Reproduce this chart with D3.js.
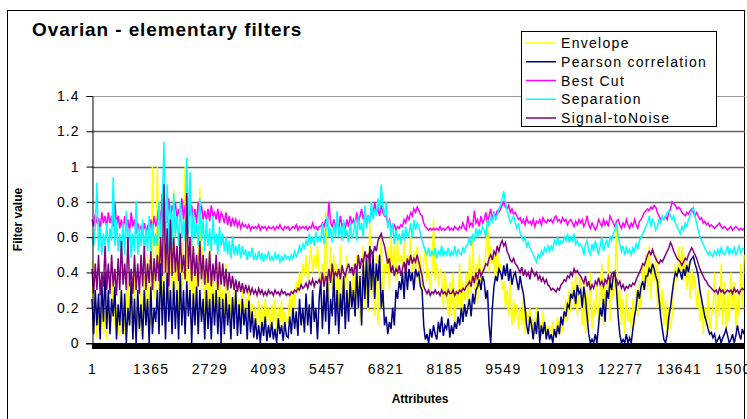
<!DOCTYPE html>
<html>
<head>
<meta charset="utf-8">
<script src="https://cdn.jsdelivr.net/npm/d3@7"></script>
<style>
  html, body { margin: 0; padding: 0; background: #fff; }
  svg { display: block; }
  text { font-family: "Liberation Sans", Arial, sans-serif; }
</style>
</head>
<body>
<svg id="chart" width="747" height="419"></svg>
<script>
// ---------------- data ----------------
const attributeCount = 15154;
const xTickLabels = [1, 1365, 2729, 4093, 5457, 6821, 8185, 9549, 10913, 12277, 13641, 15005];
const yTicks = [0, 0.2, 0.4, 0.6, 0.8, 1, 1.2, 1.4];
const seriesNames = ["Envelope", "Pearson correlation", "Best Cut", "Separation", "Signal-toNoise"];
const seriesColors = ["#FFFF00", "#000080", "#FF00FF", "#00FFFF", "#800080"];

const envelope = [
  0.46,0.08,0.2,0.03,0.15,0.1,0.22,0.05,0.18,0.02,
  0.25,0.08,0.14,0.4,0.1,0.2,0.04,0.3,0.06,0.18,
  0.05,0.22,0.35,0.1,0.28,0.02,0.4,0.12,0.2,0.06,
  0.3,0.1,0.38,0.15,0.5,0.2,0.1,1.0,0.25,0.45,
  1.0,0.3,0.62,0.2,0.75,0.35,0.55,0.2,0.6,0.3,
  0.87,0.25,0.5,0.15,0.45,0.3,0.6,1.0,0.35,0.55,
  0.2,0.6,0.15,0.45,0.25,0.5,0.88,0.3,0.55,0.12,
  0.45,0.2,0.55,0.12,0.4,0.18,0.35,0.15,0.45,0.2,
  0.3,0.14,0.45,0.18,0.3,0.12,0.25,0.2,0.35,0.15,
  0.25,0.18,0.3,0.14,0.26,0.2,0.3,0.15,0.22,0.12,
  0.2,0.08,0.24,0.1,0.22,0.06,0.25,0.12,0.2,0.08,
  0.22,0.1,0.25,0.07,0.2,0.12,0.24,0.08,0.18,0.12,
  0.12,0.28,0.15,0.3,0.2,0.35,0.28,0.4,0.32,0.45,
  0.38,0.5,0.35,0.45,0.55,0.4,0.5,0.42,0.55,0.4,
  0.35,0.45,0.3,0.75,0.4,0.25,0.55,0.3,0.5,0.2,
  0.45,0.2,0.55,0.15,0.4,0.25,0.5,0.12,0.35,0.2,
  0.45,0.15,0.5,0.3,0.12,0.4,0.55,0.2,0.35,0.18,
  0.7,0.25,0.45,0.15,0.5,0.1,0.4,0.6,0.2,0.45,
  0.4,0.55,0.3,0.6,0.42,0.55,0.35,0.58,0.45,0.5,
  0.4,0.58,0.38,0.5,0.45,0.6,0.35,0.52,0.42,0.55,
  0.35,0.5,0.3,0.45,0.55,0.35,0.42,0.3,0.4,0.7,
  0.35,0.45,0.32,0.42,0.38,0.2,0.4,0.3,0.15,0.35,
  0.15,0.4,0.1,0.3,0.2,0.45,0.12,0.35,0.25,0.4,
  0.2,0.5,0.28,0.6,0.3,0.45,0.22,0.5,0.35,0.4,
  0.45,0.5,0.75,0.4,0.55,0.45,0.5,0.35,0.55,0.4,
  0.45,0.3,0.35,0.2,0.3,0.15,0.35,0.1,0.25,0.12,
  0.22,0.08,0.2,0.1,0.25,0.05,0.18,0.12,0.2,0.06,
  0.15,0.05,0.2,0.08,0.12,0.04,0.18,0.06,0.1,0.04,
  0.1,0.02,0.12,0.05,0.08,0.15,0.04,0.12,0.06,0.15,
  0.25,0.12,0.3,0.18,0.35,0.2,0.4,0.15,0.3,0.38,
  0.1,0.35,0.05,0.3,0.12,0.4,0.08,0.25,0.15,0.35,
  0.08,0.3,0.45,0.1,0.35,0.2,0.5,0.12,0.4,0.25,
  0.35,0.68,0.2,0.3,0.1,0.25,0.05,0.28,0.12,0.2,
  0.08,0.25,0.1,0.3,0.15,0.35,0.2,0.45,0.3,0.5,
  0.3,0.55,0.25,0.45,0.35,0.5,0.2,0.4,0.15,0.3,
  0.1,0.25,0.05,0.2,0.08,0.15,0.3,0.45,0.35,0.55,
  0.4,0.55,0.35,0.5,0.3,0.45,0.25,0.42,0.3,0.38,
  0.2,0.3,0.12,0.25,0.05,0.2,0.1,0.3,0.06,0.15,
  0.2,0.4,0.08,0.3,0.15,0.45,0.1,0.35,0.05,0.3,
  0.12,0.4,0.2,0.35,0.08,0.3,0.15,0.45,0.2,0.5
];
const pearson = [
  0.25,0.05,0.3,0.1,0.28,0.02,0.35,0.12,0.4,0.08,
  0.3,0.05,0.25,0.15,0.32,0.02,0.22,0.1,0.3,0.05,
  0.28,0.0,0.2,0.1,0.35,0.02,0.25,0.0,0.3,0.08,
  0.22,0.02,0.3,0.1,0.25,0.0,0.32,0.05,0.2,0.12,
  0.3,0.05,0.45,0.1,0.35,0.02,0.4,0.12,0.3,0.05,
  0.35,0.08,0.3,0.02,0.4,0.1,0.3,0.05,0.35,0.15,
  0.3,0.0,0.28,0.1,0.32,0.05,0.3,0.12,0.25,0.02,
  0.3,0.08,0.25,0.02,0.28,0.1,0.3,0.05,0.26,0.0,
  0.25,0.05,0.28,0.1,0.22,0.02,0.26,0.08,0.3,0.04,
  0.22,0.05,0.25,0.1,0.2,0.02,0.24,0.06,0.18,0.03,
  0.14,0.02,0.1,0.0,0.12,0.04,0.15,0.01,0.1,0.03,
  0.12,0.02,0.08,0.0,0.14,0.05,0.1,0.01,0.12,0.04,
  0.03,0.15,0.05,0.2,0.08,0.18,0.04,0.25,0.1,0.2,
  0.06,0.28,0.1,0.22,0.05,0.3,0.12,0.2,0.02,0.25,
  0.35,0.08,0.3,0.12,0.38,0.05,0.25,0.15,0.4,0.1,
  0.3,0.05,0.28,0.15,0.38,0.08,0.3,0.12,0.35,0.2,
  0.3,0.15,0.42,0.2,0.38,0.1,0.45,0.25,0.5,0.2,
  0.55,0.3,0.5,0.25,0.45,0.35,0.5,0.2,0.3,0.1,
  0.15,0.05,0.12,0.08,0.2,0.1,0.3,0.25,0.35,0.3,
  0.4,0.25,0.45,0.3,0.42,0.35,0.4,0.3,0.42,0.38,
  0.4,0.32,0.3,0.1,0.02,0.05,0.0,0.08,0.03,0.1,
  0.05,0.02,0.12,0.06,0.15,0.04,0.1,0.08,0.14,0.03,
  0.1,0.05,0.12,0.08,0.15,0.1,0.2,0.12,0.22,0.15,
  0.2,0.25,0.15,0.28,0.22,0.3,0.32,0.36,0.3,0.38,
  0.35,0.25,0.3,0.1,0.0,0.2,0.32,0.38,0.35,0.42,
  0.4,0.36,0.44,0.38,0.45,0.35,0.42,0.33,0.38,0.4,
  0.35,0.3,0.38,0.32,0.28,0.2,0.1,0.05,0.15,0.1,
  0.02,0.12,0.05,0.18,0.0,0.1,0.05,0.12,0.02,0.08,
  0.02,0.05,0.0,0.08,0.03,0.1,0.05,0.15,0.1,0.18,
  0.15,0.22,0.2,0.28,0.25,0.3,0.22,0.33,0.28,0.3,
  0.2,0.32,0.25,0.15,0.05,0.0,0.02,0.0,0.05,0.0,
  0.1,0.2,0.15,0.25,0.12,0.3,0.25,0.35,0.3,0.38,
  0.4,0.3,0.15,0.05,0.0,0.02,0.0,0.05,0.0,0.03,
  0.0,0.08,0.15,0.2,0.3,0.25,0.32,0.35,0.3,0.38,
  0.38,0.42,0.4,0.45,0.42,0.38,0.35,0.25,0.15,0.08,
  0.02,0.0,0.05,0.15,0.2,0.28,0.35,0.4,0.38,0.42,
  0.4,0.36,0.42,0.38,0.44,0.4,0.46,0.48,0.49,0.45,
  0.42,0.38,0.3,0.25,0.2,0.15,0.12,0.08,0.05,0.06,
  0.03,0.05,0.0,0.02,0.04,0.0,0.03,0.05,0.08,0.04,
  0.0,0.02,0.05,0.0,0.04,0.1,0.05,0.02,0.08,0.05
];
const bestCut = [
  0.7,0.66,0.73,0.68,0.71,0.64,0.74,0.68,0.72,0.66,
  0.74,0.68,0.72,0.66,0.8,0.67,0.72,0.65,0.7,0.64,
  0.72,0.65,0.7,0.63,0.74,0.66,0.7,0.62,0.68,0.64,
  0.66,0.62,0.68,0.63,0.66,0.62,0.7,0.64,0.72,0.66,
  0.7,0.78,0.66,0.85,0.72,0.8,0.68,0.82,0.72,0.78,
  0.74,0.8,0.7,0.76,0.72,0.82,0.7,0.78,0.72,0.8,
  0.72,0.78,0.7,0.76,0.68,0.8,0.72,0.78,0.7,0.75,
  0.7,0.76,0.69,0.78,0.72,0.74,0.7,0.76,0.68,0.74,
  0.72,0.68,0.74,0.67,0.72,0.66,0.71,0.67,0.7,0.66,
  0.69,0.65,0.68,0.66,0.67,0.65,0.67,0.64,0.66,0.65,
  0.66,0.65,0.67,0.64,0.66,0.65,0.66,0.64,0.66,0.65,
  0.65,0.66,0.64,0.66,0.65,0.67,0.65,0.64,0.66,0.65,
  0.66,0.64,0.65,0.66,0.65,0.67,0.64,0.66,0.65,0.66,
  0.65,0.66,0.64,0.66,0.65,0.68,0.65,0.66,0.64,0.66,
  0.66,0.68,0.66,0.7,0.66,0.8,0.68,0.66,0.7,0.66,
  0.68,0.65,0.72,0.66,0.68,0.65,0.7,0.66,0.72,0.68,
  0.7,0.66,0.74,0.68,0.72,0.76,0.7,0.74,0.68,0.72,
  0.7,0.74,0.72,0.8,0.74,0.76,0.72,0.78,0.74,0.72,
  0.72,0.68,0.7,0.66,0.65,0.67,0.64,0.66,0.65,0.67,
  0.66,0.7,0.68,0.72,0.7,0.74,0.72,0.76,0.74,0.77,
  0.75,0.73,0.72,0.68,0.66,0.65,0.64,0.65,0.64,0.65,
  0.64,0.65,0.64,0.66,0.64,0.65,0.64,0.65,0.66,0.64,
  0.65,0.64,0.66,0.65,0.64,0.66,0.65,0.68,0.65,0.64,
  0.72,0.66,0.68,0.66,0.75,0.68,0.7,0.66,0.72,0.68,
  0.7,0.74,0.68,0.72,0.76,0.7,0.74,0.72,0.75,0.74,
  0.76,0.78,0.8,0.77,0.76,0.78,0.74,0.76,0.73,0.74,
  0.72,0.7,0.71,0.68,0.7,0.67,0.71,0.68,0.69,0.67,
  0.7,0.66,0.69,0.68,0.7,0.67,0.71,0.69,0.68,0.7,
  0.69,0.7,0.68,0.71,0.72,0.69,0.7,0.68,0.71,0.69,
  0.7,0.67,0.69,0.7,0.68,0.66,0.69,0.67,0.7,0.68,
  0.7,0.66,0.68,0.72,0.67,0.65,0.68,0.66,0.64,0.66,
  0.7,0.68,0.66,0.7,0.67,0.69,0.66,0.72,0.7,0.68,
  0.66,0.69,0.7,0.67,0.65,0.68,0.66,0.7,0.67,0.65,
  0.68,0.66,0.7,0.67,0.65,0.69,0.7,0.72,0.74,0.75,
  0.76,0.75,0.77,0.76,0.78,0.77,0.74,0.72,0.7,0.71,
  0.7,0.72,0.7,0.74,0.76,0.8,0.79,0.78,0.76,0.77,
  0.76,0.74,0.73,0.72,0.74,0.73,0.75,0.76,0.74,0.72,
  0.74,0.72,0.7,0.71,0.68,0.69,0.67,0.68,0.66,0.67,
  0.66,0.65,0.66,0.67,0.68,0.66,0.65,0.66,0.65,0.64,
  0.65,0.66,0.64,0.65,0.66,0.65,0.64,0.65,0.64,0.65
];
const separation = [
  0.6,0.55,0.65,0.91,0.52,0.66,0.5,0.62,0.55,0.68,
  0.52,0.65,0.58,0.94,0.55,0.7,0.52,0.62,0.5,0.68,
  0.5,0.75,0.55,0.65,0.48,0.62,0.52,0.8,0.5,0.66,
  0.55,0.7,0.5,0.65,0.52,0.72,0.5,0.68,0.55,0.62,
  0.55,0.8,0.6,0.72,1.14,0.58,0.9,0.52,0.78,0.55,
  0.85,0.6,0.72,0.55,0.8,0.6,0.7,0.58,1.05,0.62,
  0.97,0.55,0.75,0.6,0.68,0.55,0.82,0.58,0.7,0.52,
  0.7,0.55,0.65,0.52,0.72,0.56,0.62,0.5,0.66,0.55,
  0.62,0.52,0.6,0.5,0.58,0.48,0.6,0.5,0.55,0.5,
  0.56,0.48,0.55,0.5,0.53,0.47,0.52,0.49,0.54,0.47,
  0.5,0.47,0.52,0.48,0.51,0.46,0.5,0.48,0.52,0.47,
  0.49,0.47,0.51,0.48,0.5,0.46,0.49,0.47,0.5,0.48,
  0.49,0.47,0.5,0.48,0.52,0.49,0.51,0.55,0.52,0.56,
  0.54,0.58,0.55,0.62,0.56,0.6,0.55,0.63,0.57,0.6,
  0.58,0.68,0.56,0.64,0.72,0.6,0.65,0.57,0.68,0.6,
  0.75,0.6,0.66,0.58,0.7,0.6,0.64,0.57,0.68,0.6,
  0.62,0.7,0.58,0.72,0.64,0.68,0.6,0.78,0.65,0.72,
  0.68,0.8,0.7,0.76,0.72,0.82,0.75,0.9,0.78,0.72,
  0.8,0.65,0.7,0.6,0.68,0.56,0.64,0.58,0.62,0.56,
  0.64,0.58,0.66,0.6,0.62,0.68,0.6,0.7,0.64,0.68,
  0.66,0.62,0.58,0.55,0.52,0.5,0.54,0.49,0.52,0.5,
  0.54,0.48,0.52,0.5,0.55,0.49,0.52,0.5,0.54,0.49,
  0.52,0.5,0.55,0.49,0.53,0.51,0.5,0.54,0.52,0.55,
  0.56,0.6,0.55,0.62,0.58,0.65,0.6,0.64,0.62,0.66,
  0.64,0.6,0.7,0.66,0.72,0.68,0.74,0.7,0.72,0.76,
  0.78,0.82,0.86,0.8,0.75,0.72,0.68,0.7,0.72,0.68,
  0.65,0.68,0.62,0.6,0.58,0.6,0.55,0.57,0.54,0.52,
  0.5,0.48,0.46,0.5,0.48,0.52,0.5,0.54,0.52,0.55,
  0.52,0.55,0.53,0.58,0.56,0.6,0.55,0.58,0.57,0.6,
  0.58,0.62,0.57,0.6,0.58,0.62,0.56,0.58,0.55,0.56,
  0.54,0.5,0.56,0.58,0.52,0.5,0.56,0.52,0.58,0.54,
  0.5,0.55,0.6,0.52,0.56,0.58,0.54,0.6,0.58,0.62,
  0.64,0.68,0.6,0.56,0.52,0.55,0.5,0.54,0.51,0.53,
  0.5,0.54,0.52,0.56,0.53,0.58,0.6,0.62,0.64,0.66,
  0.68,0.72,0.66,0.7,0.68,0.64,0.66,0.7,0.68,0.72,
  0.7,0.72,0.74,0.75,0.72,0.7,0.72,0.68,0.66,0.64,
  0.62,0.66,0.64,0.68,0.66,0.7,0.72,0.75,0.77,0.72,
  0.68,0.64,0.6,0.58,0.56,0.54,0.52,0.5,0.52,0.5,
  0.49,0.52,0.5,0.53,0.5,0.54,0.51,0.5,0.52,0.55,
  0.5,0.53,0.51,0.54,0.5,0.52,0.55,0.51,0.53,0.54
];
const signalToNoise = [
  0.42,0.28,0.45,0.3,0.5,0.27,0.4,0.32,0.55,0.3,
  0.45,0.28,0.5,0.32,0.42,0.27,0.48,0.3,0.58,0.33,
  0.45,0.3,0.6,0.32,0.42,0.28,0.5,0.3,0.45,0.28,
  0.5,0.32,0.55,0.3,0.45,0.34,0.52,0.3,0.48,0.35,
  0.5,0.35,0.6,0.38,0.9,0.4,0.65,0.32,0.7,0.38,
  0.6,0.4,0.55,0.35,0.62,0.4,0.5,0.36,0.85,0.42,
  0.6,0.35,0.55,0.38,0.5,0.32,0.58,0.36,0.5,0.33,
  0.48,0.34,0.52,0.32,0.45,0.35,0.5,0.3,0.46,0.33,
  0.45,0.32,0.42,0.3,0.4,0.31,0.38,0.3,0.36,0.29,
  0.35,0.29,0.34,0.28,0.33,0.29,0.32,0.28,0.31,0.28,
  0.3,0.27,0.31,0.28,0.3,0.27,0.29,0.27,0.3,0.28,
  0.29,0.27,0.3,0.28,0.29,0.27,0.3,0.28,0.29,0.27,
  0.28,0.27,0.29,0.28,0.3,0.29,0.31,0.3,0.33,0.31,
  0.32,0.34,0.31,0.35,0.33,0.36,0.32,0.35,0.34,0.36,
  0.33,0.4,0.32,0.38,0.35,0.42,0.34,0.45,0.37,0.4,
  0.38,0.42,0.36,0.44,0.4,0.38,0.42,0.45,0.4,0.43,
  0.38,0.45,0.4,0.5,0.42,0.48,0.45,0.52,0.48,0.5,
  0.45,0.52,0.5,0.55,0.52,0.58,0.6,0.62,0.58,0.55,
  0.5,0.45,0.48,0.4,0.44,0.38,0.42,0.4,0.44,0.38,
  0.42,0.46,0.4,0.48,0.44,0.5,0.45,0.48,0.46,0.5,
  0.46,0.42,0.38,0.32,0.3,0.28,0.3,0.27,0.29,0.28,
  0.3,0.28,0.29,0.27,0.3,0.28,0.29,0.27,0.3,0.28,
  0.28,0.3,0.27,0.29,0.28,0.3,0.29,0.31,0.3,0.32,
  0.33,0.35,0.32,0.38,0.34,0.4,0.36,0.42,0.38,0.4,
  0.42,0.45,0.44,0.48,0.5,0.47,0.52,0.5,0.55,0.52,
  0.56,0.58,0.55,0.57,0.52,0.5,0.47,0.46,0.48,0.45,
  0.44,0.42,0.4,0.43,0.38,0.41,0.38,0.4,0.36,0.42,
  0.4,0.38,0.4,0.36,0.38,0.35,0.37,0.34,0.36,0.33,
  0.32,0.3,0.31,0.3,0.29,0.31,0.3,0.33,0.34,0.36,
  0.35,0.38,0.37,0.4,0.38,0.42,0.4,0.41,0.39,0.38,
  0.36,0.34,0.38,0.32,0.35,0.3,0.33,0.31,0.35,0.33,
  0.37,0.33,0.35,0.32,0.36,0.34,0.38,0.35,0.39,0.4,
  0.38,0.36,0.33,0.35,0.31,0.33,0.3,0.32,0.31,0.33,
  0.32,0.34,0.33,0.36,0.38,0.4,0.42,0.45,0.44,0.47,
  0.5,0.52,0.5,0.53,0.5,0.48,0.46,0.45,0.47,0.46,
  0.48,0.5,0.52,0.54,0.57,0.55,0.52,0.5,0.48,0.47,
  0.46,0.44,0.46,0.48,0.47,0.5,0.52,0.54,0.52,0.5,
  0.48,0.45,0.42,0.4,0.38,0.36,0.35,0.33,0.32,0.31,
  0.3,0.29,0.3,0.28,0.31,0.29,0.3,0.28,0.29,0.3,
  0.29,0.3,0.28,0.31,0.29,0.3,0.28,0.3,0.31,0.3
];
const seriesValues = [envelope, pearson, bestCut, separation, signalToNoise];

// ---------------- layout ----------------
const svg = d3.select("#chart");
const plot = { left: 92, right: 744, top: 96, bottom: 343 };

const x = d3.scaleLinear().domain([1, attributeCount]).range([plot.left, plot.right]);
const y = d3.scaleLinear().domain([0, 1.4]).range([plot.bottom, plot.top]);

// chart border
svg.append("rect")
  .attr("x", 7.5).attr("y", 10.5).attr("width", 737).attr("height", 430)
  .attr("fill", "#fff").attr("stroke", "#000").attr("stroke-width", 1);

// title
svg.append("text")
  .attr("x", 32).attr("y", 36)
  .attr("font-size", 19).attr("font-weight", "bold")
  .attr("letter-spacing", 0.9)
  .text("Ovarian - elementary filters");

// gridlines
svg.append("g")
  .selectAll("line")
  .data(yTicks.filter(d => d > 0))
  .join("line")
  .attr("x1", plot.left).attr("x2", plot.right + 1)
  .attr("y1", d => Math.round(y(d)) + 0.5).attr("y2", d => Math.round(y(d)) + 0.5)
  .attr("stroke", d => d === 1.4 ? "#9a9a9a" : "#606060")
  .attr("stroke-width", d => d === 1.4 ? 1.2 : 1.7);

// series lines
const line = d3.line()
  .x(d => x(d[0]))
  .y(d => y(d[1]));

const gLines = svg.append("g");
seriesValues.forEach((vals, k) => {
  const step = (attributeCount - 1) / (vals.length - 1);
  const pts = vals.map((v, i) => [1 + i * step, v]);
  gLines.append("path")
    .datum(pts)
    .attr("fill", "none")
    .attr("stroke", seriesColors[k])
    .attr("stroke-width", 1.5)
    .attr("stroke-linejoin", "miter")
    .attr("d", line);
});

// y axis
const yAxis = d3.axisLeft(y)
  .tickValues(yTicks)
  .tickSize(6)
  .tickPadding(7)
  .tickFormat(d => String(+d.toFixed(1)));
const gy = svg.append("g")
  .attr("transform", `translate(${plot.left + 0.5},0)`)
  .call(yAxis);
gy.select(".domain").attr("stroke", "#000");
gy.selectAll(".tick line").attr("stroke", "#000");
gy.selectAll(".tick text")
  .attr("font-size", 14)
  .attr("letter-spacing", 1)
  .attr("fill", "#000")
  .style("font-family", '"Liberation Sans", Arial, sans-serif');

// thick x axis band (dense category tick marks)
svg.append("rect")
  .attr("x", plot.left - 6).attr("y", plot.bottom)
  .attr("width", plot.right - plot.left + 6).attr("height", 1.5)
  .attr("fill", "#000");
svg.append("rect")
  .attr("x", plot.left).attr("y", plot.bottom)
  .attr("width", plot.right - plot.left).attr("height", 6)
  .attr("fill", "#000");

// x axis labels
const xAxis = d3.axisBottom(x)
  .tickValues(xTickLabels)
  .tickSize(0)
  .tickPadding(21)
  .tickFormat(d => String(d));
const gx = svg.append("g")
  .attr("transform", `translate(0,${plot.bottom})`)
  .call(xAxis);
gx.select(".domain").remove();
gx.selectAll(".tick text")
  .attr("font-size", 14)
  .attr("letter-spacing", 1.3)
  .attr("fill", "#000")
  .style("font-family", '"Liberation Sans", Arial, sans-serif');

// axis titles
svg.append("text")
  .attr("x", (plot.left + plot.right) / 2 + 2).attr("y", 403)
  .attr("text-anchor", "middle")
  .attr("font-size", 12).attr("font-weight", "bold")
  .text("Attributes");
svg.append("text")
  .attr("transform", `translate(22,${(plot.top + plot.bottom) / 2}) rotate(-90)`)
  .attr("text-anchor", "middle")
  .attr("font-size", 12).attr("font-weight", "bold")
  .text("Filter value");

// legend
const legend = svg.append("g");
legend.append("rect")
  .attr("x", 521.5).attr("y", 31.5).attr("width", 195).attr("height", 95)
  .attr("fill", "#fff").attr("stroke", "#000").attr("stroke-width", 1);
const rowY = d3.scaleLinear().domain([0, 4]).range([43, 118]);
seriesNames.forEach((name, k) => {
  legend.append("line")
    .attr("x1", 526).attr("x2", 556)
    .attr("y1", rowY(k)).attr("y2", rowY(k))
    .attr("stroke", seriesColors[k]).attr("stroke-width", 1.5);
  legend.append("text")
    .attr("x", 561).attr("y", rowY(k) + 5)
    .attr("font-size", 14).attr("letter-spacing", 1.3)
    .text(name);
});
</script>
</body>
</html>
